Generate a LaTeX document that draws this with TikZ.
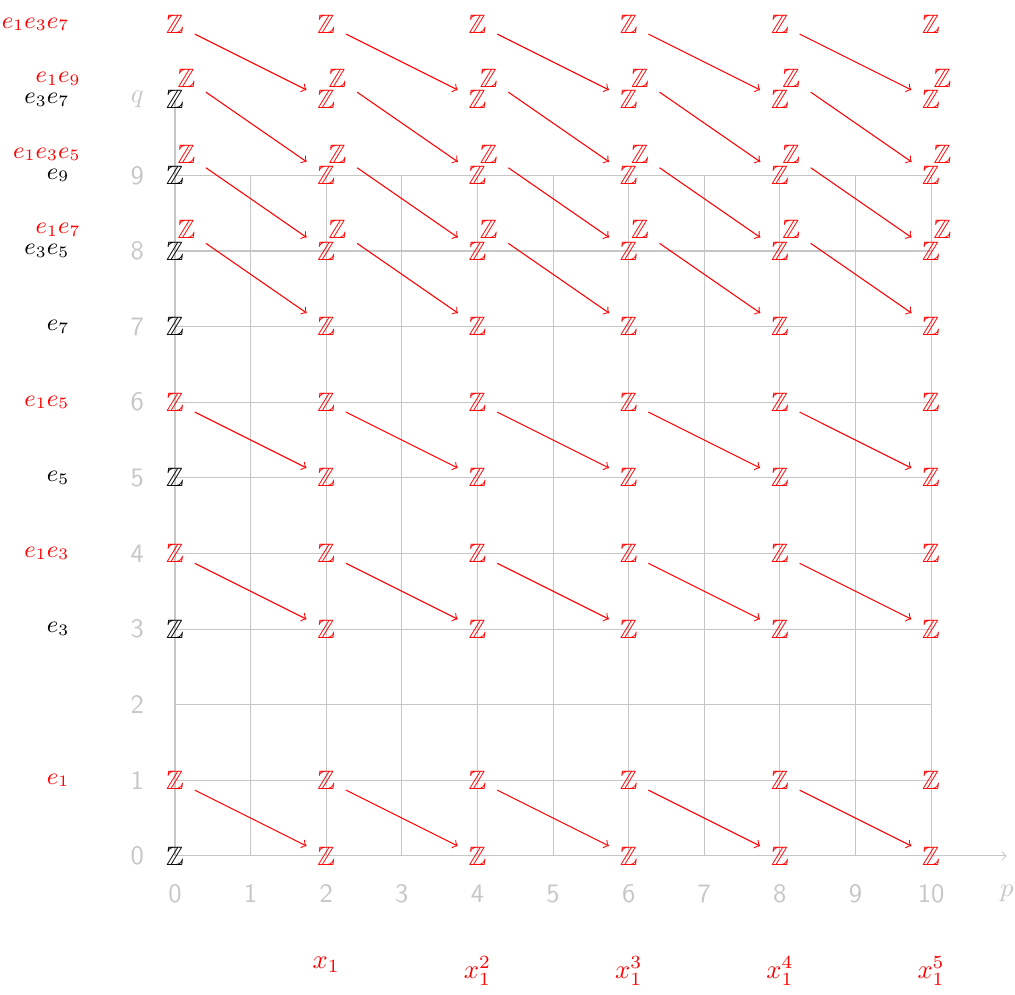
\documentclass[tikz,border=0pt]{standalone}
\usepackage{amsmath, amssymb}
\usepackage{tikz}
\usetikzlibrary{arrows.meta}

\begin{document}
\begin{tikzpicture}[
  >=to,
  gridLine/.style={gray!45, line width=0.4pt},
  tickLbl/.style={text=gray!45, font=\sffamily},
  ent/.style={inner sep=3pt},
  gen/.style={anchor=east, inner sep=0pt, font=\small},
  poly/.style={anchor=north, text=red, inner sep=0pt},
  dif/.style={->, red, line width=0.4pt, shorten <=1pt, shorten >=1pt},
]
\useasboundingbox (-2.315,-1.84) rectangle (11.11,11.32);

% grid and axes
\draw[gridLine] (0,0) grid (10,9);
\draw[gridLine, ->] (0,0) -- (11,0);
\draw[gridLine] (0,9) -- (0,10);
\foreach \p in {0,...,10}
  \node[tickLbl] (tp\p) at (\p,-0.5) {\p};
\foreach \q in {0,...,9}
  \node[tickLbl] (tq\q) at (-0.5,\q) {\q};
\node[tickLbl] (plbl) at (11,-0.5) {$p$};
\node[tickLbl] (qlbl) at (-0.5,10) {$q$};

% entries
\foreach \q in {0,3,5,7,8,9,10}
  \node[ent] (z0-\q) at (0,\q) {$\mathbb{Z}$};
\foreach \p in {2,4,...,10}
  \foreach \q in {0,3,5,7,8,9,10}
    \node[ent, red] (z\p-\q) at (\p,\q) {$\mathbb{Z}$};
\foreach \p in {0,2,...,10} {
  \foreach \q in {1,4,6,11}
    \node[ent, red] (z\p-\q) at (\p,\q) {$\mathbb{Z}$};
  \foreach \q in {8,9,10}
    \node[ent, red] (w\p-\q) at (\p+0.15,\q+0.28) {$\mathbb{Z}$};
}

% differentials
\foreach \p [evaluate=\p as \n using int(\p+2)] in {0,2,...,8} {
  \foreach \q [evaluate=\q as \m using int(\q-1)] in {1,4,6,11}
    \draw[dif] (z\p-\q) -- (z\n-\m);
  \foreach \q [evaluate=\q as \m using int(\q-1)] in {8,9,10}
    \draw[dif] (w\p-\q) -- (z\n-\m);
}

% generators
\node[gen, red] (g11) at (-1.39,11) {$e_1e_3e_7$};
\node[gen, red] (h10) at (-1.24,10.28) {$e_1e_9$};
\node[gen] (g10) at (-1.39,10) {$e_3e_7$};
\node[gen, red] (h9) at (-1.24,9.28) {$e_1e_3e_5$};
\node[gen] (g9) at (-1.39,9) {$e_9$};
\node[gen, red] (h8) at (-1.24,8.28) {$e_1e_7$};
\node[gen] (g8) at (-1.39,8) {$e_3e_5$};
\node[gen] (g7) at (-1.39,7) {$e_7$};
\node[gen, red] (g6) at (-1.39,6) {$e_1e_5$};
\node[gen] (g5) at (-1.39,5) {$e_5$};
\node[gen, red] (g4) at (-1.39,4) {$e_1e_3$};
\node[gen] (g3) at (-1.39,3) {$e_3$};
\node[gen, red] (g1) at (-1.39,1) {$e_1$};

\node[poly] (x1) at (2,-1.33) {$x_1$};
\node[poly] (x2) at (4,-1.33) {$x_1^2$};
\node[poly] (x3) at (6,-1.33) {$x_1^3$};
\node[poly] (x4) at (8,-1.33) {$x_1^4$};
\node[poly] (x5) at (10,-1.33) {$x_1^5$};
\end{tikzpicture}
\end{document}
